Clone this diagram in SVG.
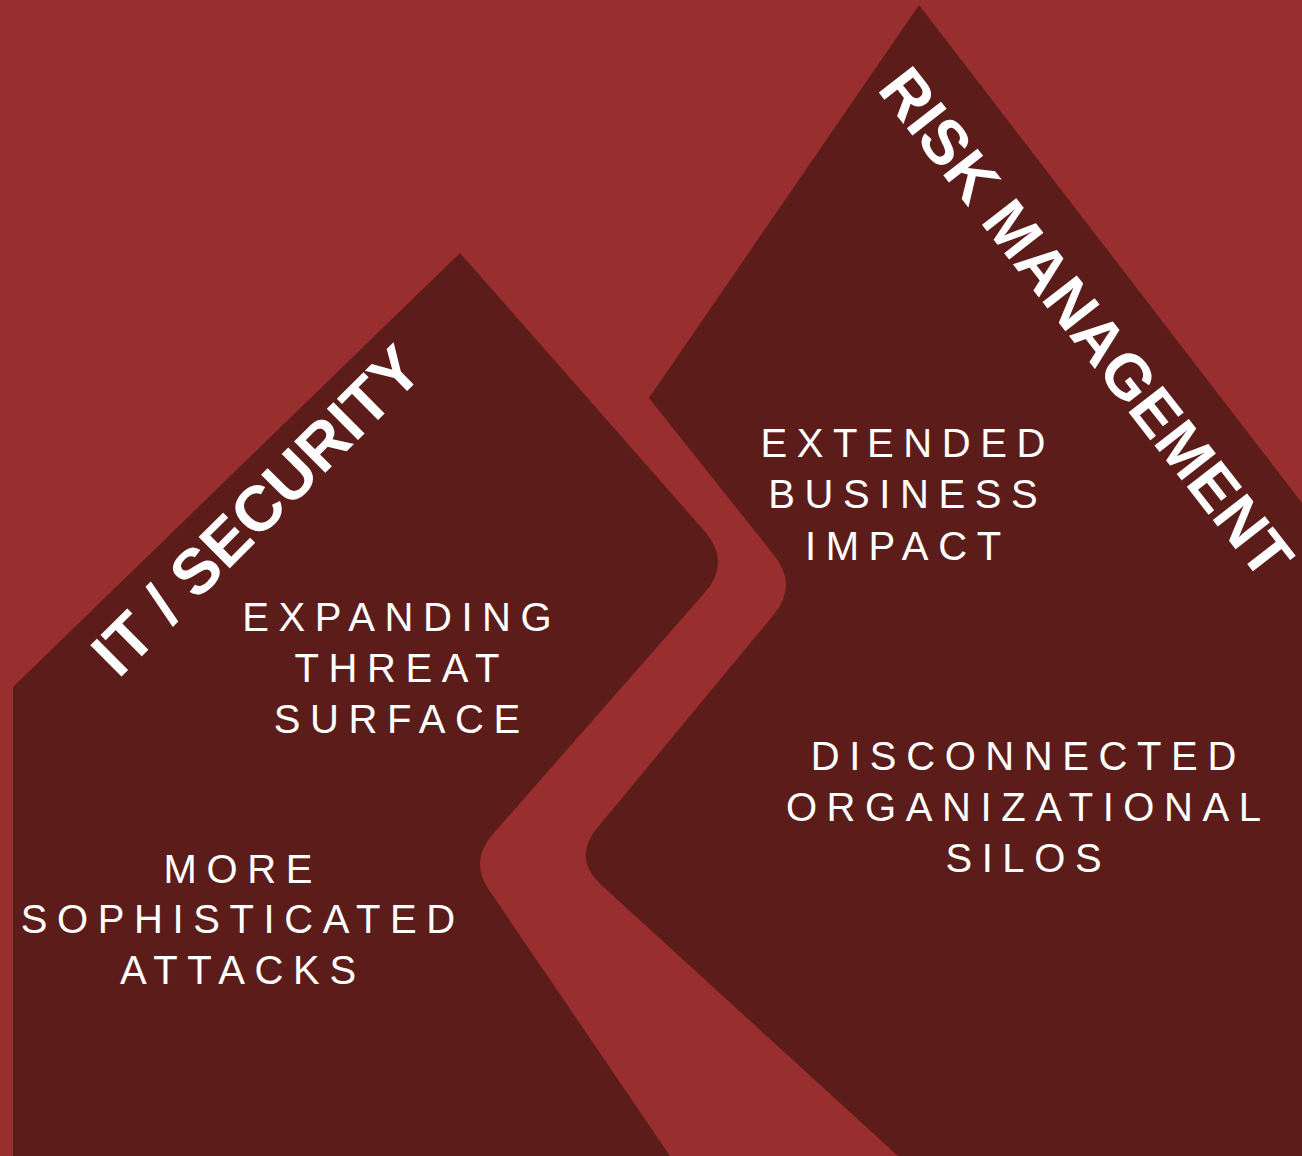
<svg xmlns="http://www.w3.org/2000/svg" width="1302" height="1156" viewBox="0 0 1302 1156">
<style>
.bg{fill:#982e2d}
.shape{fill:#5c1c1a}
.title{font-family:"Liberation Sans",Arial,sans-serif;font-weight:bold;fill:#ffffff;text-anchor:middle}
.body{font-family:"Liberation Sans",Arial,sans-serif;font-size:40px;letter-spacing:9.6px;fill:#ffffff;text-anchor:middle}
</style>
<rect class="bg" x="0" y="0" width="1302" height="1156"/>
<g id="it-security">
<path class="shape" d="M13,687 L460,253 L704,530.5 Q732,562 704,593.5 L493,834 Q469,861 489,890 L670,1156 L13,1156 Z"/>
<text class="title" font-size="64" x="272" y="526" transform="rotate(-45 272 526)">IT / SECURITY</text>
<text class="body"><tspan x="401.8" y="631">EXPANDING</tspan><tspan x="401.8" y="682">THREAT</tspan><tspan x="401.8" y="733">SURFACE</tspan></text>
<text class="body"><tspan x="242.8" y="883">MORE</tspan><tspan x="242.8" y="933">SOPHISTICATED</tspan><tspan x="242.8" y="984">ATTACKS</tspan></text>
</g>
<g id="risk-management">
<path class="shape" d="M919,5 L1302,503 L1302,1156 L898,1156 L601.6,885.2 Q572,858 597.6,827.4 L773.8,614.8 Q798,585.5 774.4,555.7 L649,398 Z"/>
<text class="title" font-size="63" x="1069" y="336" transform="rotate(52 1069 336)">RISK MANAGEMENT</text>
<text class="body"><tspan x="907.8" y="457">EXTENDED</tspan><tspan x="907.8" y="508">BUSINESS</tspan><tspan x="907.8" y="560">IMPACT</tspan></text>
<text class="body"><tspan x="1028.3" y="770">DISCONNECTED</tspan><tspan x="1028.3" y="821">ORGANIZATIONAL</tspan><tspan x="1028.3" y="872">SILOS</tspan></text>
</g>
<g id="connectors"></g>
</svg>
